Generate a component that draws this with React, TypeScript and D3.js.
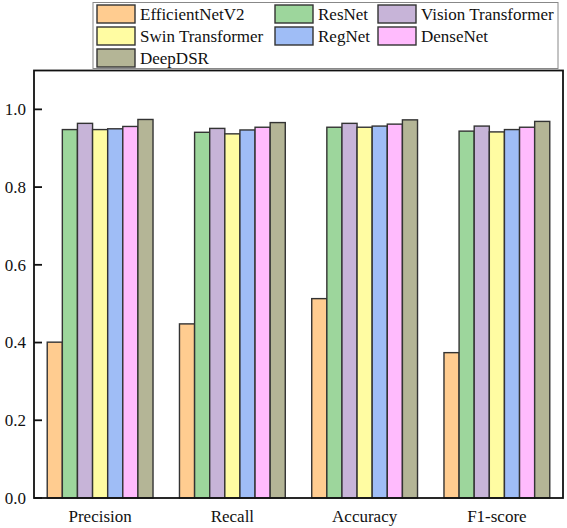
import React from "react";
import * as d3 from "d3";

const categories = ["Precision", "Recall", "Accuracy", "F1-score"];
const models = [
  "EfficientNetV2",
  "ResNet",
  "Vision Transformer",
  "Swin Transformer",
  "RegNet",
  "DenseNet",
  "DeepDSR",
];
const colors = ["#FFCC90", "#9DD69C", "#C7B4D8", "#FFFCA2", "#9FBDF6", "#FFBBFD", "#B4B596"];
// values[model][category]
const efficientNetV2 = [0.401, 0.448, 0.513, 0.374];
const resNet = [0.948, 0.941, 0.954, 0.944];
const visionTransformer = [0.964, 0.951, 0.964, 0.957];
const swinTransformer = [0.948, 0.937, 0.954, 0.942];
const regNet = [0.95, 0.947, 0.957, 0.948];
const denseNet = [0.956, 0.954, 0.962, 0.954];
const deepDSR = [0.974, 0.966, 0.973, 0.969];
const seriesValues = [efficientNetV2, resNet, visionTransformer, swinTransformer, regNet, denseNet, deepDSR];
const yTicks = [0, 0.2, 0.4, 0.6, 0.8, 1.0];

const W = 567;
const H = 528;
const left = 34;
const right = 563;
const top = 70.5;
const bottom = 498;
const fontStyle = { fontFamily: "Liberation Serif, DejaVu Serif, serif" };

export default function App() {
  const x0 = d3.scaleBand<string>().domain(categories).range([left, right]).paddingInner(0.2).paddingOuter(0.1);
  const x1 = d3.scaleBand<string>().domain(models).range([0, x0.bandwidth()]);
  const y = d3.scaleLinear().domain([0, 1.1]).range([bottom, top]);

  const legendCols = [97, 275, 378];
  const legendTextOff = 43;
  const legendRows = [5, 27, 49];

  return (
    <svg width={W} height={H} style={{ position: "absolute", left: 0, top: 0, background: "#fff" }}>
      <rect x={0} y={0} width={W} height={H} fill="#fff" />
      {categories.map((c, ci) =>
        models.map((m, mi) => {
          const v = seriesValues[mi][ci];
          return (
            <rect
              key={c + m}
              x={(x0(c) as number) + (x1(m) as number)}
              y={y(v)}
              width={x1.bandwidth()}
              height={bottom - y(v)}
              fill={colors[mi]}
              stroke="#333"
              strokeWidth={1.4}
            />
          );
        })
      )}
      {/* frame */}
      <rect x={left} y={top} width={right - left} height={bottom - top} fill="none" stroke="#111" strokeWidth={1.8} />
      {yTicks.map((t) => (
        <g key={t}>
          <line x1={left} x2={left + 8} y1={y(t)} y2={y(t)} stroke="#111" strokeWidth={1.8} />
          <text x={26} y={y(t)} dy="0.35em" textAnchor="end" fontSize={17} fill="#111" style={fontStyle}>
            {t.toFixed(1)}
          </text>
        </g>
      ))}
      {categories.map((c) => (
        <text
          key={c}
          x={(x0(c) as number) + x0.bandwidth() / 2}
          y={522}
          textAnchor="middle"
          fontSize={17}
          fill="#111"
          style={fontStyle}
        >
          {c}
        </text>
      ))}
      {/* legend */}
      <rect x={93} y={2.5} width={465} height={66} fill="#fff" stroke="#888" strokeWidth={1} />
      {models.map((m, i) => {
        const col = i < 6 ? i % 3 : 0;
        const row = Math.floor(i / 3);
        const lx = legendCols[col];
        const ly = legendRows[row];
        return (
          <g key={m}>
            <rect x={lx} y={ly} width={38} height={18} fill={colors[i]} stroke="#333" strokeWidth={1.4} />
            <text x={lx + legendTextOff} y={ly + 9} dy="0.35em" fontSize={17} fill="#111" style={fontStyle}>
              {m}
            </text>
          </g>
        );
      })}
    </svg>
  );
}
